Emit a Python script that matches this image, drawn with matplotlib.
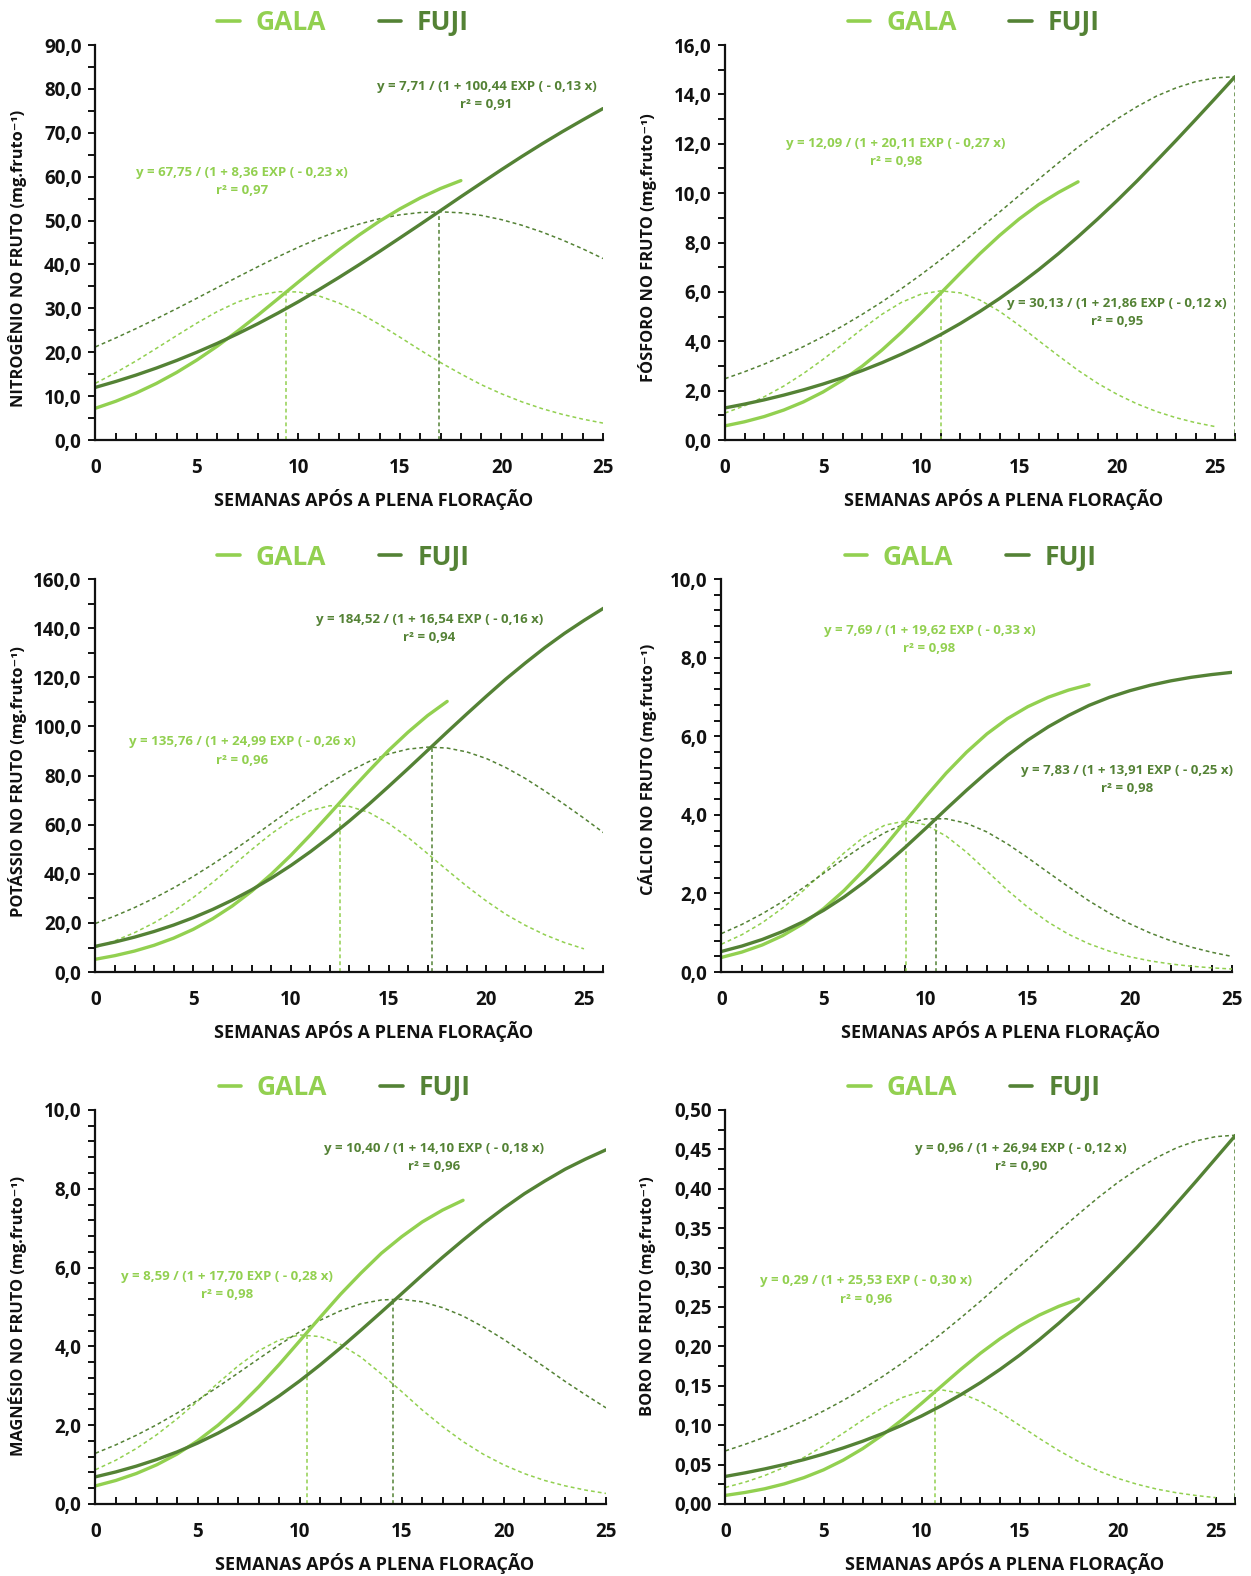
import matplotlib
matplotlib.use('Agg')
import matplotlib.pyplot as plt
from matplotlib.ticker import MultipleLocator, FuncFormatter

# cores das cultivares
GALA = '#92D050'
FUJI = '#548235'

WEEKS = list(range(27))

# ---- nitrogenio ----
n_gala = [7.24, 8.83, 10.70, 12.89, 15.40, 18.24, 21.39, 24.81, 28.44, 32.22, 36.02, 39.76, 43.37,
          46.76, 49.89, 52.68, 55.17, 57.32, 59.12]
n_gala_taxa = [12.93, 15.36, 18.02, 20.88, 23.80, 26.66, 29.27, 31.45, 33.00, 33.80, 33.74, 32.85, 31.21,
               28.98, 26.30, 23.43, 20.49, 17.65, 15.06, 12.62, 10.54, 8.71, 7.15, 5.84, 4.76, 3.86]
n_fuji = [12.00, 13.34, 14.80, 16.40, 18.13, 20.01, 22.03, 24.20, 26.50, 28.95, 31.53, 34.24, 37.06,
          39.98, 42.99, 46.06, 49.15, 52.29, 55.44, 58.53, 61.61, 64.60, 67.49, 70.27, 72.93, 75.53]
n_fuji_taxa = [21.23, 23.26, 25.39, 27.63, 29.94, 32.32, 34.73, 37.14, 39.49, 41.78, 43.94, 45.93, 47.70,
               49.22, 50.44, 51.32, 51.84, 52.00, 51.78, 51.19, 50.22, 48.95, 47.39, 45.58, 43.57, 41.36]
n_pico = [(9.4, 33.9), (16.9, 52.0)]

# ---- fosforo ----
p_gala = [0.573, 0.739, 0.950, 1.215, 1.544, 1.946, 2.428, 2.993, 3.643, 4.365, 5.143, 5.950, 6.762,
          7.552, 8.287, 8.956, 9.542, 10.03, 10.46]
p_gala_taxa = [1.092, 1.388, 1.751, 2.186, 2.694, 3.266, 3.881, 4.504, 5.091, 5.578, 5.911, 6.044, 5.960,
               5.670, 5.214, 4.644, 4.021, 3.413, 2.823, 2.297, 1.847, 1.467, 1.154, 0.902, 0.701, 0.542]
p_fuji = [1.300, 1.455, 1.627, 1.820, 2.032, 2.268, 2.527, 2.815, 3.130, 3.477, 3.856, 4.271, 4.722,
          5.211, 5.735, 6.301, 6.906, 7.551, 8.237, 8.954, 9.707, 10.49, 11.31, 12.14, 12.99, 13.85, 14.72]
p_fuji_taxa = [2.485, 2.766, 3.074, 3.415, 3.784, 4.187, 4.620, 5.092, 5.595, 6.133, 6.702, 7.303, 7.929,
               8.577, 9.236, 9.905, 10.572, 11.229, 11.865, 12.462, 13.013, 13.503, 13.934, 14.267,
               14.520, 14.670, 14.720]
p_pico = [(11.0, 6.0), (26.0, 14.72)]

# ---- potassio ----
k_gala = [5.22, 6.70, 8.56, 10.90, 13.81, 17.38, 21.72, 26.89, 32.94, 39.85, 47.52, 55.82, 64.52,
          73.38, 81.93, 90.21, 97.67, 104.43, 110.19]
k_gala_taxa = [10.04, 12.74, 16.04, 20.05, 24.81, 30.31, 36.49, 43.13, 49.89, 56.31, 61.78, 65.73, 67.71,
               67.43, 64.97, 60.53, 54.81, 48.20, 41.50, 34.96, 28.94, 23.53, 19.02, 15.18, 12.02, 9.46]
k_fuji = [10.50, 12.23, 14.23, 16.52, 19.14, 22.12, 25.50, 29.28, 33.52, 38.22, 43.38, 49.00, 55.08,
          61.54, 68.36, 75.52, 82.82, 90.25, 97.71, 105.05, 112.25, 119.27, 125.82, 132.08, 137.85,
          143.13, 148.10]
k_fuji_taxa = [19.80, 22.83, 26.25, 30.06, 34.28, 38.90, 43.90, 49.20, 54.77, 60.49, 66.22, 71.79, 77.04,
               81.74, 85.71, 88.78, 90.76, 91.58, 91.20, 89.63, 86.95, 83.25, 78.81, 73.70, 68.26,
               62.63, 56.75]
k_pico = [(12.5, 67.9), (17.2, 91.6)]

# ---- calcio ----
ca_gala = [0.373, 0.509, 0.690, 0.928, 1.232, 1.613, 2.073, 2.609, 3.203, 3.832, 4.461, 5.059, 5.593,
           6.060, 6.446, 6.752, 6.992, 7.175, 7.313]
ca_gala_taxa = [0.710, 0.951, 1.256, 1.632, 2.069, 2.549, 3.029, 3.448, 3.738, 3.845, 3.747, 3.461, 3.051,
                2.569, 2.086, 1.648, 1.270, 0.961, 0.718, 0.531, 0.389, 0.284, 0.206, 0.149, 0.108, 0.078]
ca_fuji = [0.525, 0.662, 0.830, 1.034, 1.280, 1.571, 1.908, 2.291, 2.717, 3.175, 3.655, 4.145, 4.625,
           5.084, 5.514, 5.901, 6.239, 6.530, 6.785, 6.991, 7.159, 7.297, 7.409, 7.499, 7.569, 7.626]
ca_fuji_taxa = [0.980, 1.212, 1.484, 1.795, 2.141, 2.512, 2.886, 3.241, 3.548, 3.775, 3.897, 3.901, 3.786,
                3.565, 3.262, 2.908, 2.535, 2.168, 1.811, 1.498, 1.228, 0.993, 0.798, 0.635, 0.505, 0.398]
ca_pico = [(9.05, 3.80), (10.5, 3.90)]

# ---- magnesio ----
mg_gala = [0.459, 0.597, 0.773, 0.994, 1.268, 1.601, 1.998, 2.459, 2.977, 3.542, 4.138, 4.735, 5.322,
           5.860, 6.363, 6.785, 7.158, 7.460, 7.708]
mg_gala_taxa = [0.869, 1.111, 1.407, 1.758, 2.162, 2.605, 3.067, 3.510, 3.890, 4.163, 4.290, 4.249, 4.049,
                3.726, 3.300, 2.851, 2.386, 1.963, 1.584, 1.260, 0.991, 0.771, 0.596, 0.460, 0.352, 0.268]
mg_fuji = [0.689, 0.814, 0.960, 1.128, 1.322, 1.545, 1.797, 2.080, 2.396, 2.744, 3.122, 3.529, 3.960,
           4.411, 4.871, 5.339, 5.807, 6.261, 6.697, 7.118, 7.509, 7.873, 8.195, 8.497, 8.754, 8.989]
mg_fuji_taxa = [1.287, 1.501, 1.743, 2.011, 2.308, 2.631, 2.973, 3.328, 3.688, 4.040, 4.370, 4.663, 4.904,
                5.081, 5.179, 5.197, 5.130, 4.983, 4.770, 4.492, 4.175, 3.826, 3.474, 3.110, 2.770, 2.440]
mg_pico = [(10.35, 4.29), (14.55, 5.19)]

# ---- boro ----
b_gala = [0.0109, 0.0146, 0.0193, 0.0255, 0.0334, 0.0433, 0.0556, 0.0703, 0.0875, 0.1068, 0.1277,
          0.1493, 0.1709, 0.1913, 0.2097, 0.2260, 0.2397, 0.2509, 0.2600]
b_gala_taxa = [0.0210, 0.0277, 0.0361, 0.0465, 0.0591, 0.0737, 0.0898, 0.1065, 0.1222, 0.1350, 0.1430,
               0.1449, 0.1404, 0.1302, 0.1161, 0.0997, 0.0832, 0.0677, 0.0538, 0.0421, 0.0325, 0.0249,
               0.0188, 0.0142, 0.0107, 0.0080]
b_fuji = [0.0350, 0.0395, 0.0445, 0.0501, 0.0563, 0.0633, 0.0711, 0.0797, 0.0893, 0.1000, 0.1117,
          0.1246, 0.1387, 0.1540, 0.1708, 0.1889, 0.2085, 0.2295, 0.2517, 0.2754, 0.3004, 0.3262,
          0.3532, 0.3814, 0.4098, 0.4388, 0.4678]
b_fuji_taxa = [0.0674, 0.0757, 0.0848, 0.0948, 0.1058, 0.1180, 0.1314, 0.1458, 0.1616, 0.1786, 0.1967,
               0.2160, 0.2363, 0.2573, 0.2793, 0.3015, 0.3241, 0.3465, 0.3680, 0.3888, 0.4080, 0.4250,
               0.4398, 0.4520, 0.4608, 0.4662, 0.4680]
b_pico = [(10.7, 0.145), (26.0, 0.468)]

ylabels = ['NITROGÊNIO NO FRUTO (mg.fruto⁻¹)', 'FÓSFORO NO FRUTO (mg.fruto⁻¹)',
           'POTÁSSIO NO FRUTO (mg.fruto⁻¹)', 'CÁLCIO NO FRUTO (mg.fruto⁻¹)',
           'MAGNÉSIO NO FRUTO (mg.fruto⁻¹)', 'BORO NO FRUTO (mg.fruto⁻¹)']

eq_gala = ['y = 67,75 / (1 + 8,36 EXP ( - 0,23 x)', 'y = 12,09 / (1 + 20,11 EXP ( - 0,27 x)',
           'y = 135,76 / (1 + 24,99 EXP ( - 0,26 x)', 'y = 7,69 / (1 + 19,62 EXP ( - 0,33 x)',
           'y = 8,59 / (1 + 17,70 EXP ( - 0,28 x)', 'y = 0,29 / (1 + 25,53 EXP ( - 0,30 x)']
r2_gala = ['0,97', '0,98', '0,96', '0,98', '0,98', '0,96']
eq_fuji = ['y = 7,71 / (1 + 100,44 EXP ( - 0,13 x)', 'y = 30,13 / (1 + 21,86 EXP ( - 0,12 x)',
           'y = 184,52 / (1 + 16,54 EXP ( - 0,16 x)', 'y = 7,83 / (1 + 13,91 EXP ( - 0,25 x)',
           'y = 10,40 / (1 + 14,10 EXP ( - 0,18 x)', 'y = 0,96 / (1 + 26,94 EXP ( - 0,12 x)']
r2_fuji = ['0,91', '0,95', '0,94', '0,98', '0,96', '0,90']

plt.rcParams['font.family'] = ['Open Sans', 'DejaVu Sans']
plt.rcParams['font.weight'] = 'bold'
plt.rcParams['axes.labelweight'] = 'bold'

# layout: retangulo do eixo, escala y, xmax, posicao do ylabel, posicao das equacoes
layout = [
    dict(rect=(0.0763, 0.7208, 0.4057, 0.2506), ymax=90, major=10, minor=5, dec=1, xmax=25,
         ylab=(-0.153, 0.459), eqg=(7.23, 60.9, 56.8), eqf=(19.26, 80.6, 76.5)),
    dict(rect=(0.5795, 0.7208, 0.4077, 0.2506), ymax=16, major=2, minor=1, dec=1, xmax=26,
         ylab=(-0.151, 0.487), eqg=(8.72, 12.01, 11.28), eqf=(20.0, 5.54, 4.80)),
    dict(rect=(0.0763, 0.3832, 0.4061, 0.2494), ymax=160, major=20, minor=10, dec=1, xmax=26,
         ylab=(-0.153, 0.485), eqg=(7.51, 93.7, 86.3), eqf=(17.08, 143.6, 136.3)),
    dict(rect=(0.5767, 0.3832, 0.4081, 0.2494), ymax=10, major=2, minor=0.4, dec=1, xmax=25,
         ylab=(-0.144, 0.516), eqg=(10.19, 8.70, 8.24), eqf=(19.88, 5.14, 4.68)),
    dict(rect=(0.0763, 0.0457, 0.4081, 0.2500), ymax=10, major=2, minor=0.4, dec=1, xmax=25,
         ylab=(-0.152, 0.476), eqg=(6.45, 5.77, 5.31), eqf=(16.58, 9.03, 8.57)),
    dict(rect=(0.5799, 0.0457, 0.4077, 0.2500), ymax=0.5, major=0.05, minor=0.025, dec=2, xmax=26,
         ylab=(-0.152, 0.527), eqg=(7.17, 0.283, 0.260), eqf=(15.06, 0.4515, 0.4286)),
]

series = [
    (n_gala, n_gala_taxa, n_fuji, n_fuji_taxa, n_pico),
    (p_gala, p_gala_taxa, p_fuji, p_fuji_taxa, p_pico),
    (k_gala, k_gala_taxa, k_fuji, k_fuji_taxa, k_pico),
    (ca_gala, ca_gala_taxa, ca_fuji, ca_fuji_taxa, ca_pico),
    (mg_gala, mg_gala_taxa, mg_fuji, mg_fuji_taxa, mg_pico),
    (b_gala, b_gala_taxa, b_fuji, b_fuji_taxa, b_pico),
]

fig = plt.figure(figsize=(12.51, 15.76), dpi=100)
DASH = (0, (2.5, 2))

for i, lay in enumerate(layout):
    gala, gala_taxa, fuji, fuji_taxa, pico = series[i]
    ax = fig.add_axes(lay['rect'])

    ax.plot(WEEKS[:len(gala_taxa)], gala_taxa, color=GALA, lw=1.1, ls=DASH)
    ax.plot(WEEKS[:len(fuji_taxa)], fuji_taxa, color=FUJI, lw=1.1, ls=DASH)
    ax.plot([pico[0][0], pico[0][0]], [0, pico[0][1]], color=GALA, lw=1.1, ls=DASH)
    ax.plot([pico[1][0], pico[1][0]], [0, pico[1][1]], color=FUJI, lw=1.1, ls=DASH)
    lg, = ax.plot(WEEKS[:len(gala)], gala, color=GALA, lw=2.4, solid_capstyle='round')
    lf, = ax.plot(WEEKS[:len(fuji)], fuji, color=FUJI, lw=2.4, solid_capstyle='round')

    ax.set_xlim(0, lay['xmax'])
    ax.set_ylim(0, lay['ymax'])
    for s in ['top', 'right']:
        ax.spines[s].set_visible(False)
    for s in ['left', 'bottom']:
        ax.spines[s].set_linewidth(1.6)
        ax.spines[s].set_color('#111111')

    ax.xaxis.set_major_locator(MultipleLocator(5))
    ax.xaxis.set_minor_locator(MultipleLocator(1))
    ax.yaxis.set_major_locator(MultipleLocator(lay['major']))
    ax.yaxis.set_minor_locator(MultipleLocator(lay['minor']))
    d = lay['dec']
    ax.yaxis.set_major_formatter(FuncFormatter(lambda v, p, d=d: f'{v:.{d}f}'.replace('.', ',')))
    ax.tick_params(axis='x', which='both', direction='in', length=5, width=1.4, pad=13,
                   labelsize=13.5, colors='#111111')
    ax.tick_params(axis='y', which='both', direction='out', length=5, width=1.4, pad=5,
                   labelsize=13.5, colors='#111111')

    ax.set_xlabel('SEMANAS APÓS A PLENA FLORAÇÃO', fontsize=13, fontweight='bold', color='#111111')
    ax.xaxis.set_label_coords(0.547, -0.125)
    ax.set_ylabel(ylabels[i], fontsize=11.8, fontweight='bold', color='#111111', va='center')
    ax.yaxis.set_label_coords(*lay['ylab'])

    gx, gy, gr = lay['eqg']
    fx, fy, fr = lay['eqf']
    ax.text(gx, gy, eq_gala[i], color=GALA, fontsize=9.5, ha='center', va='center')
    ax.text(gx, gr, 'r² = ' + r2_gala[i], color=GALA, fontsize=9.5, ha='center', va='center')
    ax.text(fx, fy, eq_fuji[i], color=FUJI, fontsize=9.5, ha='center', va='center')
    ax.text(fx, fr, 'r² = ' + r2_fuji[i], color=FUJI, fontsize=9.5, ha='center', va='center')

    leg = ax.legend([lg, lf], ['GALA', 'FUJI'], ncol=2, loc='center', bbox_to_anchor=(0.488, 1.056),
                    frameon=False, handlelength=0.85, handletextpad=0.6, columnspacing=2.0,
                    labelcolor='linecolor', prop={'size': 19, 'weight': 'bold'}, borderaxespad=0)
    for h in leg.legend_handles:
        h.set_linewidth(2.6)

fig.savefig('out.png', dpi=100)
